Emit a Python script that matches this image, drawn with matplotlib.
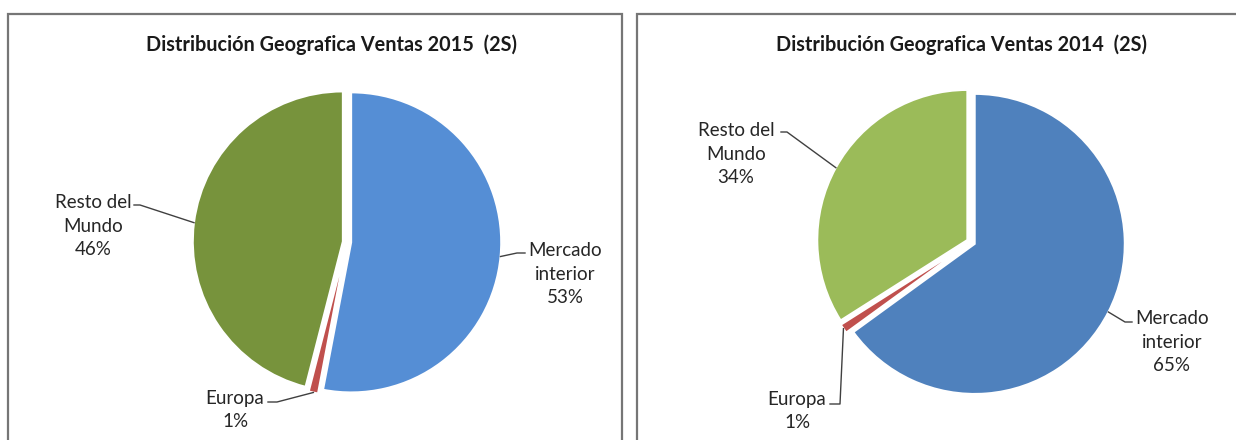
import matplotlib.pyplot as plt
from matplotlib.patches import Rectangle
import numpy as np

plt.rcParams['font.family'] = ['Lato', 'DejaVu Sans']

categories = ['Mercado\ninterior', 'Europa', 'Resto del\nMundo']
shares_2015 = [53, 1, 46]
shares_2014 = [65, 1, 34]
titles = ['Distribución Geografica Ventas 2015  (2S)',
          'Distribución Geografica Ventas 2014  (2S)']

colors_2015 = ['#558ED5', '#C0504D', '#77933C']
colors_2014 = ['#4F81BD', '#C0504D', '#9BBB59']

W, H = 1236, 440
R = 150

# layout in pixels (y measured from top)
panels = [
    dict(box=(8, 622), center=(347, 242), title_x=332,
         text=[(565, 274), (235, 410), (93, 226)],
         elbow=[(517, 253), (277, 402), (140, 205)],
         end=[(525, 253), (268, 402), (134, 205)]),
    dict(box=(637, 1260), center=(971, 242), title_x=961,
         text=[(1172, 342), (797, 411), (736, 154)],
         elbow=[(1125, 322), (840, 404), (787, 132)],
         end=[(1132, 322), (830, 404), (781, 132)]),
]

fig = plt.figure(figsize=(W / 100, H / 100), dpi=100)
ax = fig.add_axes([0, 0, 1, 1])


def py(y):
    return H - y


for p, vals, cols, title in zip(panels, [shares_2015, shares_2014],
                                [colors_2015, colors_2014], titles):
    x0, x1 = p['box']
    ax.add_patch(Rectangle((x0, -20), x1 - x0, py(14) + 20, fill=False,
                           edgecolor='#767676', linewidth=1.6, clip_on=False))
    cx, cy = p['center']
    wedges, _ = ax.pie(vals, colors=cols, startangle=90, counterclock=False,
                       explode=[0.028 * R] * len(vals), radius=R,
                       center=(cx, py(cy)), frame=False,
                       wedgeprops=dict(linewidth=1.4, edgecolor='white'))
    ax.text(p['title_x'], py(45), title, ha='center', va='center',
            fontsize=14.3, fontweight='bold', color='#1a1a1a')
    for w, cat, v, t, e, d in zip(wedges, categories, vals,
                                  p['text'], p['elbow'], p['end']):
        mid = np.deg2rad((w.theta1 + w.theta2) / 2)
        ax_, ay_ = w.center[0] + w.r * np.cos(mid), w.center[1] + w.r * np.sin(mid)
        ax.plot([ax_, e[0], d[0]], [ay_, py(e[1]), py(d[1])],
                color='#404040', linewidth=1)
        ax.text(t[0], py(t[1]), f'{cat}\n{v}%', ha='center', va='center',
                fontsize=13.5, color='#262626', linespacing=1.45)

ax.set_xlim(0, W)
ax.set_ylim(0, H)
ax.set_aspect('auto')
ax.axis('off')

fig.savefig('out.png', dpi=100)
